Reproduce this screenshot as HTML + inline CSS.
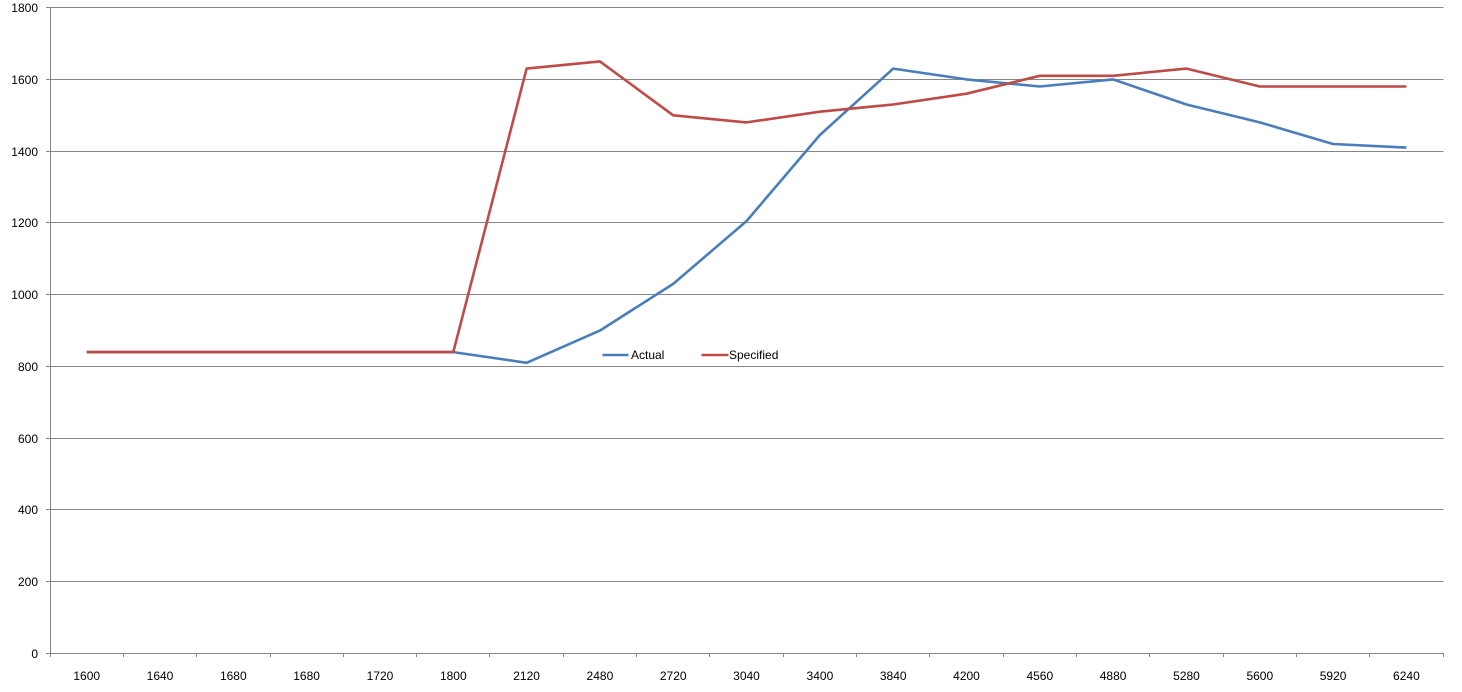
<!DOCTYPE html>
<html><head><meta charset="utf-8"><style>
html,body{margin:0;padding:0;background:#fff;}
svg{display:block;}
text{font-family:"Liberation Sans",sans-serif;font-size:12px;fill:#000;}
</style></head><body>
<svg width="1462" height="692" viewBox="0 0 1462 692" xmlns="http://www.w3.org/2000/svg">
<g stroke="#868686" stroke-width="1" fill="none">
<path d="M50 7.5H1443.5M50 79.5H1443.5M50 151.5H1443.5M50 222.5H1443.5M50 294.5H1443.5M50 366.5H1443.5M50 438.5H1443.5M50 509.5H1443.5M50 581.5H1443.5M46 653.5H1443.5"/>
<path d="M46 7.5H50M46 79.5H50M46 151.5H50M46 222.5H50M46 294.5H50M46 366.5H50M46 438.5H50M46 509.5H50M46 581.5H50"/>
<path d="M50.5 7V657"/>
<path d="M123.5 653V657M196.5 653V657M270.5 653V657M343.5 653V657M416.5 653V657M489.5 653V657M563.5 653V657M636.5 653V657M709.5 653V657M783.5 653V657M856.5 653V657M929.5 653V657M1003.5 653V657M1076.5 653V657M1149.5 653V657M1223.5 653V657M1296.5 653V657M1369.5 653V657M1443.5 653V657"/>
</g>
<g text-anchor="end">
<text x="38" y="12">1800</text>
<text x="38" y="84">1600</text>
<text x="38" y="156">1400</text>
<text x="38" y="227">1200</text>
<text x="38" y="299">1000</text>
<text x="38" y="371">800</text>
<text x="38" y="443">600</text>
<text x="38" y="514">400</text>
<text x="38" y="586">200</text>
<text x="38" y="658">0</text>
</g>
<g text-anchor="middle">
<text x="86.7" y="680">1600</text>
<text x="160" y="680">1640</text>
<text x="233.3" y="680">1680</text>
<text x="306.6" y="680">1680</text>
<text x="380" y="680">1720</text>
<text x="453.3" y="680">1800</text>
<text x="526.6" y="680">2120</text>
<text x="599.9" y="680">2480</text>
<text x="673.2" y="680">2720</text>
<text x="746.5" y="680">3040</text>
<text x="819.9" y="680">3400</text>
<text x="893.2" y="680">3840</text>
<text x="966.5" y="680">4200</text>
<text x="1039.8" y="680">4560</text>
<text x="1113.1" y="680">4880</text>
<text x="1186.5" y="680">5280</text>
<text x="1259.8" y="680">5600</text>
<text x="1333.1" y="680">5920</text>
<text x="1406.4" y="680">6240</text>
</g>
<polyline fill="none" stroke="#4A7EBB" stroke-width="2.6" stroke-linejoin="round" points="86.7,352.1 160,352.1 233.3,352.1 306.6,352.1 380,352.1 453.3,352.1 526.6,362.8 599.9,330.6 673.2,283.9 746.5,221.1 819.9,135 893.2,68.6 966.5,79.4 1039.8,86.5 1113.1,79.4 1186.5,104.5 1259.8,122.4 1333.1,144 1406.4,147.6"/>
<polyline fill="none" stroke="#BE4B48" stroke-width="2.6" stroke-linejoin="round" points="86.7,352.1 160,352.1 233.3,352.1 306.6,352.1 380,352.1 453.3,352.1 526.6,68.6 599.9,61.4 673.2,115.3 746.5,122.4 819.9,111.7 893.2,104.5 966.5,93.7 1039.8,75.8 1113.1,75.8 1186.5,68.6 1259.8,86.5 1333.1,86.5 1406.4,86.5"/>
<line x1="602.5" y1="355" x2="628.5" y2="355" stroke="#4A7EBB" stroke-width="2.6"/>
<text x="631" y="359">Actual</text>
<line x1="701.5" y1="355" x2="728.5" y2="355" stroke="#BE4B48" stroke-width="2.6"/>
<text x="729" y="359">Specified</text>
</svg>
</body></html>
